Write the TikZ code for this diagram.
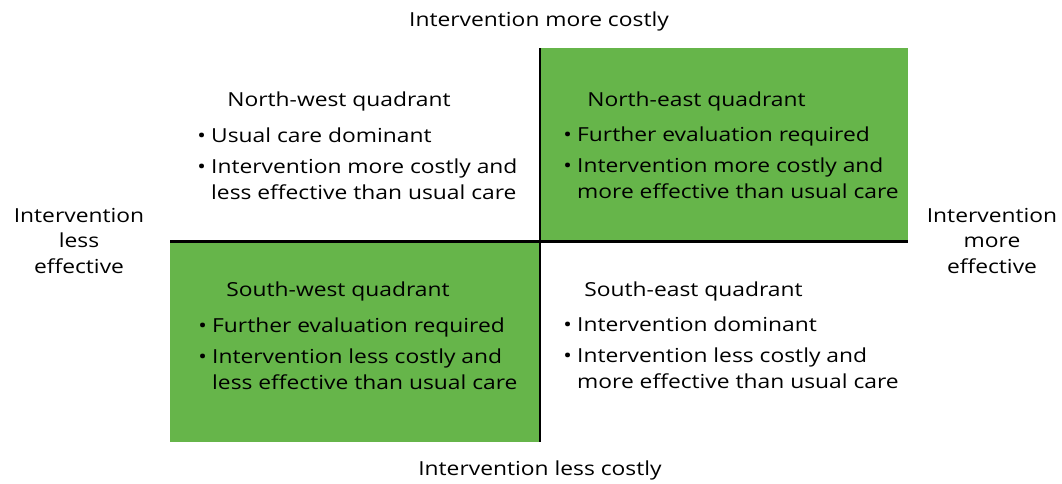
\documentclass[tikz,border=0pt]{standalone}
\usepackage{fontspec}
\setmainfont{Open Sans}[FakeStretch=1.18]
\usetikzlibrary{calc}
\definecolor{quadgreen}{HTML}{66B54A}

\begin{document}
\begin{tikzpicture}
  \def\XL{3.4}
  \def\XM{10.8}
  \def\XR{18.16}
  \def\YB{0.84}
  \def\YM{4.84}
  \def\YT{8.72}

  \tikzset{
      quadtext/.style={anchor=base west,inner sep=0pt,align=left,
        font=\fontsize{11}{14.7}\selectfont},
      axistext/.style={align=center,inner sep=0pt,
        font=\fontsize{11}{14.7}\selectfont},
  }

  \useasboundingbox (0,0) rectangle (21.24,9.68);

  % shaded quadrants
  \fill [quadgreen] (\XM,\YM) rectangle (\XR,\YT);
  \fill [quadgreen] (\XL,\YB) rectangle (\XM,\YM);

  % axes
  \draw [line width=1.7pt] (\XM,\YB) -- (\XM,\YT);
  \draw [line width=1.7pt] (\XL,\YM) -- (\XR,\YM);

  \node [axistext,anchor=base] (costup) at (10.78,9.15) {Intervention more costly};
  \node [axistext,anchor=base] (costdown) at (10.8,0.17) {Intervention less costly};
  \node [axistext] (effless) at (1.58,4.86) {Intervention\\less\\effective};
  \node [axistext] (effmore) at (19.84,4.86) {Intervention\\more\\effective};

  % north-west
  \node [quadtext] (nwhead) at (4.54,7.55) {North-west quadrant};
  \node [quadtext] (nwlist) at (3.94,6.82) {%
    \begin{tabular}[t]{@{}l@{\hspace{3pt}}l@{}}
      \textbullet & Usual care dominant\\[2.8pt]
      \textbullet & Intervention more costly and\\
                  & less effective than usual care
    \end{tabular}};

  % north-east
  \node [quadtext] (nehead) at (11.74,7.55) {North-east quadrant};
  \node [quadtext] (nelist) at (11.26,6.84) {%
    \begin{tabular}[t]{@{}l@{\hspace{3pt}}l@{}}
      \textbullet & Further evaluation required\\[2.8pt]
      \textbullet & Intervention more costly and\\
                  & more effective than usual care
    \end{tabular}};

  % south-west
  \node [quadtext] (swhead) at (4.52,3.75) {South-west quadrant};
  \node [quadtext] (swlist) at (3.96,3.03) {%
    \begin{tabular}[t]{@{}l@{\hspace{3pt}}l@{}}
      \textbullet & Further evaluation required\\[2.8pt]
      \textbullet & Intervention less costly and\\
                  & less effective than usual care
    \end{tabular}};

  % south-east
  \node [quadtext] (sehead) at (11.68,3.75) {South-east quadrant};
  \node [quadtext] (selist) at (11.26,3.05) {%
    \begin{tabular}[t]{@{}l@{\hspace{3pt}}l@{}}
      \textbullet & Intervention dominant\\[2.8pt]
      \textbullet & Intervention less costly and\\
                  & more effective than usual care
    \end{tabular}};
\end{tikzpicture}
\end{document}
